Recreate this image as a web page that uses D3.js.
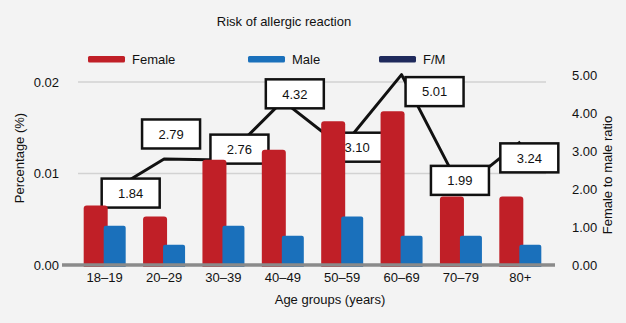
<!DOCTYPE html>
<html>
<head>
<meta charset="utf-8">
<script src="https://cdn.jsdelivr.net/npm/d3@7"></script>
<style>
  body { margin: 0; background: #f3f3f3; }
  svg { display: block; font-family: "Liberation Sans", Arial, sans-serif; }
</style>
</head>
<body>
<svg id="chart" width="626" height="323"></svg>
<script>
const ageGroups = ["18–19", "20–29", "30–39", "40–49", "50–59", "60–69", "70–79", "80+"];
const female = [0.0065, 0.0053, 0.0115, 0.0126, 0.0157, 0.0168, 0.0075, 0.0075];
const male = [0.0043, 0.0022, 0.0043, 0.0032, 0.0053, 0.0032, 0.0032, 0.0022];
const ratio = [1.84, 2.79, 2.76, 4.32, 3.10, 5.01, 1.99, 3.24];
const leftTicks = [0, 0.01, 0.02];
const rightTicks = [0, 1, 2, 3, 4, 5];

// where each ratio box sits relative to its point
const boxShift = [[26, -2], [7, -25], [16, -11], [12, -7], [15, 0], [33, 17], [-1, -9], [9, 16]];

const red = "#c01f27";
const blue = "#1a70bb";
const navy = "#1f2a5c";

const svg = d3.select("#chart");

const x = d3.scaleBand().domain(ageGroups).range([75, 550]);
const yL = d3.scaleLinear().domain([0, 0.02]).range([265, 82]);
const yR = d3.scaleLinear().domain([0, 5]).range([265, 75]);

// title
svg.append("text")
  .attr("x", 284).attr("y", 26)
  .attr("text-anchor", "middle")
  .attr("font-size", 13).attr("fill", "#111")
  .text("Risk of allergic reaction");

// legend
const legendItems = [
  { name: "Female", color: red, x: 88 },
  { name: "Male", color: blue, x: 248 },
  { name: "F/M", color: navy, x: 379 }
];
const lg = svg.selectAll(".legend").data(legendItems).enter().append("g")
  .attr("transform", d => `translate(${d.x},56)`);
lg.append("rect").attr("width", 37).attr("height", 6.5).attr("rx", 1.5).attr("fill", d => d.color);
lg.append("text").attr("x", 44).attr("y", 8).attr("font-size", 13).attr("fill", "#111").text(d => d.name);

// gridlines
svg.selectAll(".grid").data(leftTicks.slice(1)).enter().append("line")
  .attr("x1", 78).attr("x2", 546)
  .attr("y1", d => yL(d)).attr("y2", d => yL(d))
  .attr("stroke", "#d2d2d2").attr("stroke-width", 1.5);

// left axis
const axL = svg.append("g").attr("transform", "translate(59,0)")
  .call(d3.axisLeft(yL).tickValues(leftTicks).tickFormat(d3.format(".2f")).tickSize(0).tickPadding(0));
axL.select(".domain").remove();
axL.selectAll("text").attr("font-size", 13).attr("fill", "#111").attr("font-family", "Liberation Sans, Arial, sans-serif");

// right axis
const axR = svg.append("g").attr("transform", "translate(572,0)")
  .call(d3.axisRight(yR).tickValues(rightTicks).tickFormat(d3.format(".2f")).tickSize(0).tickPadding(0));
axR.select(".domain").remove();
axR.selectAll("text").attr("font-size", 13).attr("fill", "#111").attr("font-family", "Liberation Sans, Arial, sans-serif");

// axis titles
svg.append("text")
  .attr("transform", "translate(24,158) rotate(-90)")
  .attr("text-anchor", "middle").attr("font-size", 13).attr("fill", "#111")
  .text("Percentage (%)");
svg.append("text")
  .attr("transform", "translate(612,175) rotate(-90)")
  .attr("text-anchor", "middle").attr("font-size", 13).attr("fill", "#111")
  .text("Female to male ratio");

// x labels
const cx = d => x(d) + x.bandwidth() / 2;
svg.selectAll(".xlab").data(ageGroups).enter().append("text")
  .attr("x", d => cx(d)).attr("y", 282)
  .attr("text-anchor", "middle").attr("font-size", 13).attr("fill", "#111")
  .text(d => d);
svg.append("text")
  .attr("x", 330).attr("y", 304)
  .attr("text-anchor", "middle").attr("font-size", 13).attr("fill", "#111")
  .text("Age groups (years)");

// F/M line, behind the bars
const line = d3.line()
  .x((d, i) => cx(ageGroups[i]))
  .y(d => yR(d));
svg.append("path")
  .datum(ratio)
  .attr("d", line)
  .attr("fill", "none")
  .attr("stroke", "#111")
  .attr("stroke-width", 3)
  .attr("stroke-linejoin", "round");

// ratio boxes
const box = svg.selectAll(".box").data(ratio).enter().append("g")
  .attr("transform", (d, i) => `translate(${cx(ageGroups[i]) + boxShift[i][0]},${yR(d) + boxShift[i][1]})`);
box.append("rect")
  .attr("x", -29).attr("y", -14.5).attr("width", 58).attr("height", 29)
  .attr("fill", "#fff").attr("stroke", "#111").attr("stroke-width", 2.5);
box.append("text")
  .attr("text-anchor", "middle").attr("dy", "0.36em")
  .attr("font-size", 13).attr("fill", "#111")
  .text(d => d.toFixed(2));

// bars with rounded tops
function topRounded(x0, w, yTop, yBot, r) {
  return `M${x0},${yBot}V${yTop + r}Q${x0},${yTop} ${x0 + r},${yTop}H${x0 + w - r}Q${x0 + w},${yTop} ${x0 + w},${yTop + r}V${yBot}Z`;
}
const base = yL(0) + 2;
svg.selectAll(".fbar").data(female).enter().append("path")
  .attr("fill", red)
  .attr("d", (d, i) => topRounded(cx(ageGroups[i]) - 21, 24, yL(d), base, 3));
svg.selectAll(".mbar").data(male).enter().append("path")
  .attr("fill", blue)
  .attr("d", (d, i) => topRounded(cx(ageGroups[i]) - 1, 22, yL(d), base, 2));

// baseline
svg.append("line")
  .attr("x1", 62).attr("x2", 555)
  .attr("y1", yL(0)).attr("y2", yL(0))
  .attr("stroke", "#8a8a8a").attr("stroke-width", 3.5);
</script>
</body>
</html>
